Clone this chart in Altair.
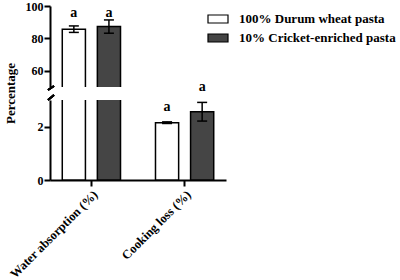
import altair as alt
import pandas as pd

categories = ["Water absorption (%)", "Cooking loss (%)"]
groups = ["100% Durum wheat pasta", "10% Cricket-enriched pasta"]
cat_col = ["Water absorption (%)", "Water absorption (%)", "Cooking loss (%)", "Cooking loss (%)"]
grp_col = groups * 2
means = [85.7, 87.3, 2.15, 2.56]
errors = [2.0, 4.1, 0.03, 0.35]
letters = ["a", "a", "a", "a"]
letter_pos = [95.7, 95.7, 2.75, 3.48]
fills = ["white", "#454545"]

df = pd.DataFrame({
    "cat": cat_col,
    "grp": grp_col,
    "mean": means,
    "lo": [m - e for m, e in zip(means, errors)],
    "hi": [m + e for m, e in zip(means, errors)],
    "letter": letters,
    "ly": letter_pos,
})

SERIF = "Liberation Serif"
W = 176

xo_enc = alt.XOffset("grp:N", sort=groups,
                     scale=alt.Scale(paddingInner=0.34, paddingOuter=0.1))
color_enc = alt.Color("grp:N", sort=groups,
                      scale=alt.Scale(domain=groups, range=fills),
                      legend=alt.Legend(title=None, orient="none", legendX=157, legendY=2,
                                        symbolType="M-1,-0.4L1,-0.4L1,0.4L-1,0.4Z",
                                        symbolSize=400, symbolStrokeColor="black",
                                        symbolStrokeWidth=1.2, symbolOpacity=1,
                                        labelFont=SERIF, labelFontWeight="bold",
                                        labelFontSize=13, labelColor="black",
                                        labelOffset=10, rowPadding=1))


def panel(domain, tick_vals, height, top, seg_filter):
    if top:
        xx = alt.X("cat:N", sort=categories, axis=None,
                   scale=alt.Scale(paddingInner=0.3, paddingOuter=0.094))
        yaxis = alt.Axis(values=tick_vals, title="Percentage", titleX=-40, titleY=87,
                         titleAngle=-90, titleAlign="center", titleBaseline="middle",
                         titleFont=SERIF, titleFontWeight="bold", titleFontSize=13,
                         titleColor="black", labelFontSize=12, labelFont=SERIF,
                         labelFontWeight="bold")
    else:
        xx = alt.X("cat:N", sort=categories, title=None,
                   scale=alt.Scale(paddingInner=0.3, paddingOuter=0.094),
                   axis=alt.Axis(labelAngle=-45, labelFontSize=12.5, labelPadding=2,
                                 labelFont=SERIF, labelFontWeight="bold"))
        yaxis = alt.Axis(values=tick_vals, title=None, labelFontSize=12, labelFont=SERIF,
                         labelFontWeight="bold")
    ysc = alt.Scale(domain=domain, nice=False, zero=False)
    base = alt.Chart(df)
    bars = base.mark_bar(clip=True, stroke="black", strokeWidth=1.5).encode(
        x=xx, xOffset=xo_enc,
        y=alt.Y("mean:Q", scale=ysc, axis=yaxis),
        color=color_enc,
    )
    rules = base.mark_rule(clip=True, color="black", strokeWidth=1.5).encode(
        x=xx, xOffset=xo_enc, y="lo:Q", y2="hi:Q")
    caps_hi = base.mark_tick(clip=True, color="black", thickness=1.5, size=10,
                             orient="horizontal", opacity=1).encode(
        x=xx, xOffset=xo_enc, y="hi:Q")
    caps_lo = base.mark_tick(clip=True, color="black", thickness=1.5, size=10,
                             orient="horizontal", opacity=1).encode(
        x=xx, xOffset=xo_enc, y="lo:Q")
    text = base.transform_filter(seg_filter).mark_text(
        font=SERIF, fontWeight="bold", fontSize=14, color="black", baseline="middle"
    ).encode(x=xx, xOffset=xo_enc, y="ly:Q", text="letter:N")
    if top:
        brk = alt.Chart(df).mark_rule(color="black", strokeWidth=2).encode(
            x=alt.value(-2), x2=alt.value(4), y=alt.value(84), y2=alt.value(80))
    else:
        brk = alt.Chart(df).mark_rule(color="black", strokeWidth=2).encode(
            x=alt.value(-2), x2=alt.value(4), y=alt.value(0), y2=alt.value(-5))
    return alt.layer(bars, rules, caps_hi, caps_lo, text, brk).properties(
        width=W, height=height)


top = panel([50, 100], [60, 80, 100], 81, True, alt.datum.ly >= 50)
bottom = panel([0, 3], [0, 2], 80, False, alt.datum.ly < 50)

chart = alt.vconcat(top, bottom, spacing=13, bounds="flush").resolve_scale(
    y="independent"
).properties(
    padding={"left": 4, "top": 0, "right": 0, "bottom": 0},
    background="white",
).configure_view(stroke=None).configure_axis(
    grid=False, domainColor="black", domainWidth=2, tickColor="black", tickWidth=2,
    tickSize=6, labelFont=SERIF, labelFontWeight="bold", labelFontSize=14,
    labelColor="black", labelPadding=1,
)

chart.save("out.html", embed_options={"renderer": "svg", "actions": False})
